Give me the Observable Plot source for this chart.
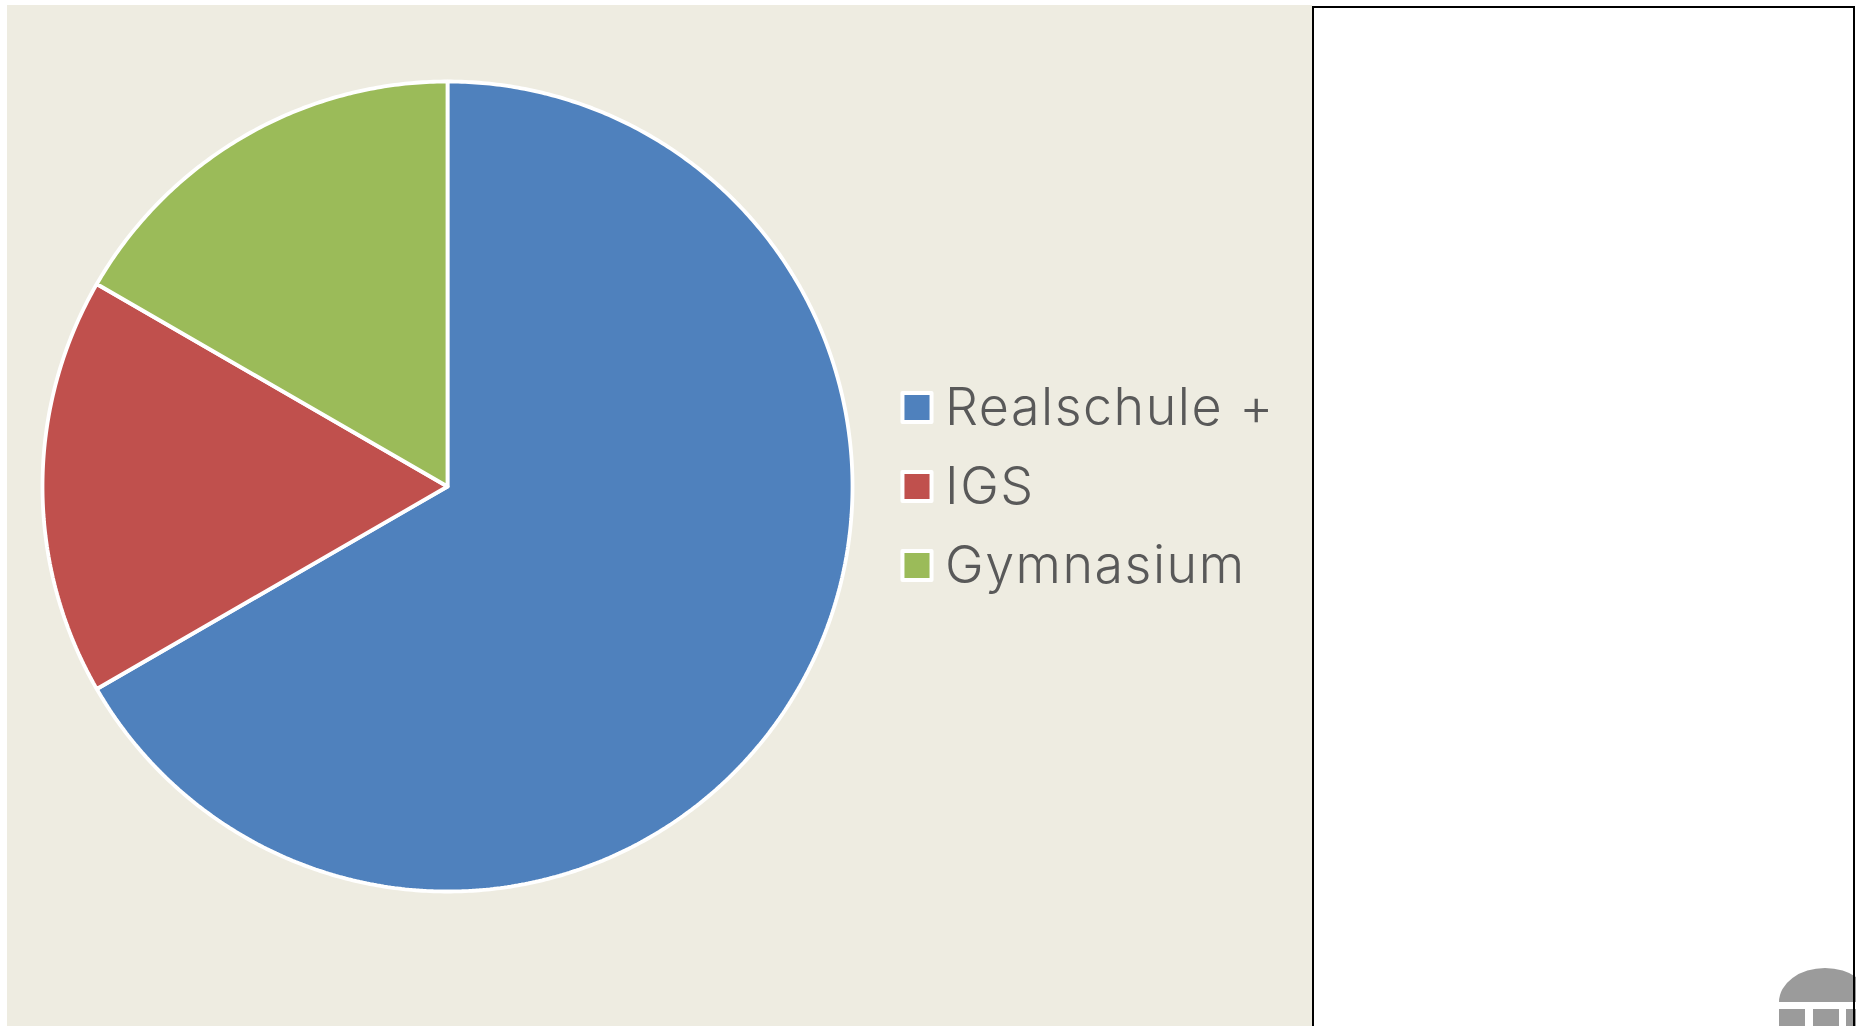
<!DOCTYPE html>
<html>
<head>
<meta charset="utf-8">
<script src="https://cdn.jsdelivr.net/npm/d3@7"></script>
<script src="https://cdn.jsdelivr.net/npm/@observablehq/plot@0.6"></script>
<style>
html,body{margin:0;padding:0;width:1856px;height:1026px;overflow:hidden;background:#fff}
#bg{position:absolute;left:7px;top:5px;width:1305px;height:1021px;background:#eeece1}
#logo{position:absolute;left:1770px;top:960px}
#panel{position:absolute;left:1312px;top:6px;width:539px;height:1100px;border:2px solid #000;box-sizing:content-box}
#pie{position:absolute;left:26.5px;top:66px}
#legend{position:absolute;left:880px;top:366px}
svg{background:none;display:block}
</style>
</head>
<body>
<div id="bg"></div>
<svg id="logo" width="86" height="66" viewBox="1770 960 86 66">
  <path d="M1779 1002 A46 34 0 0 1 1871 1002 Z" fill="#9b9b9b"/>
  <rect x="1779" y="1009" width="26" height="17" fill="#9b9b9b"/>
  <rect x="1813" y="1009" width="26" height="17" fill="#9b9b9b"/>
  <rect x="1846" y="1009" width="10" height="17" fill="#9b9b9b"/>
</svg>
<div id="panel"></div>
<div id="pie"></div>
<div id="legend"></div>
<script>
const categories = ["Realschule +", "IGS", "Gymnasium"];
const shares = [4, 1, 1];
const colors = ["#4f81bd", "#c0504d", "#9bbb59"];

const arcs = d3.pie().sort(null)(shares);
const outline = arcs.flatMap((a, i) => {
  const name = categories[i];
  const span = a.endAngle - a.startAngle;
  const n = Math.round(span / (Math.PI / 360));
  const ring = [{name, x: 0, y: 0}];
  for (let k = 0; k <= n; ++k) {
    const t = a.startAngle + span * k / n;
    ring.push({name, x: Math.sin(t), y: Math.cos(t)});
  }
  ring.push({name, x: 0, y: 0});
  return ring;
});

const color = {domain: categories, range: colors};

document.getElementById("pie").append(Plot.plot({
  width: 840, height: 840,
  margin: 0,
  style: {background: "none"},
  x: {axis: null, domain: [-1, 1], range: [15, 825]},
  y: {axis: null, domain: [-1, 1], range: [825, 15]},
  color,
  marks: [
    Plot.line(outline, {x: "x", y: "y", z: "name", fill: "name", stroke: "white", strokeWidth: 3.8, strokeLinejoin: "miter"})
  ]
}));

document.getElementById("legend").append(Plot.plot({
  width: 420, height: 240,
  margin: 0,
  style: {background: "none", letterSpacing: "1.5px"},
  x: {axis: null, domain: [0, 1], range: [36.5, 136.5]},
  y: {axis: null, type: "point", domain: categories, range: [41, 199], padding: 0},
  color,
  marks: [
    Plot.dot(categories, {x: () => 0, y: d => d, fill: d => d, symbol: "square", r: 16.4, stroke: "white", strokeWidth: 4, strokeLinejoin: "round"}),
    Plot.text(categories, {x: () => 0, y: d => d, text: d => d, dx: 28, dy: 1, textAnchor: "start", fill: "#595959", fontSize: 52, fontFamily: "Inter", fontWeight: 300})
  ]
}));
</script>
</body>
</html>
